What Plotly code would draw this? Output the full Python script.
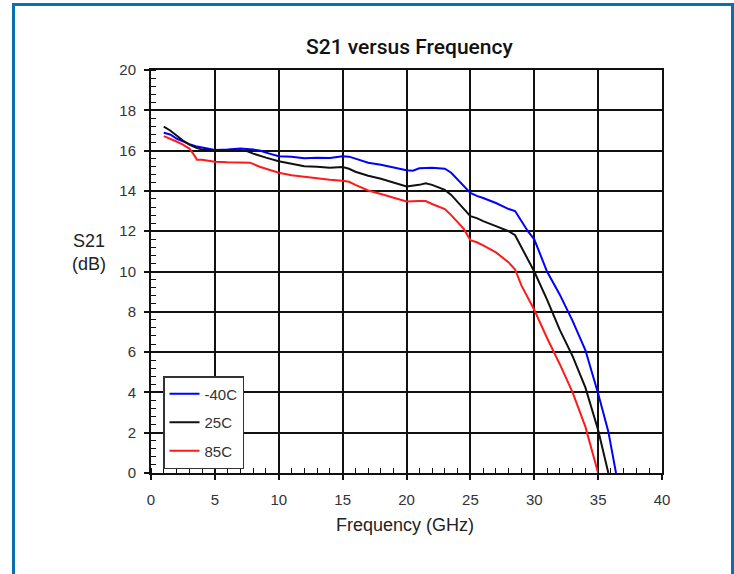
import plotly.graph_objects as go

# ---- data ----
freq_m40 = [1, 1.5, 2, 2.5, 3, 3.5, 4, 4.5, 5, 6, 7, 8, 8.5, 9, 10, 11, 12, 13, 14, 15, 15.5, 16, 17, 18, 19, 20, 20.5, 21, 22, 23, 23.5, 24, 24.5, 25, 25.5, 26, 27, 28, 28.5, 29, 29.5, 30, 31, 32, 33, 34, 35, 35.8, 36.4]
s21_m40 = [16.89, 16.8, 16.6, 16.45, 16.32, 16.22, 16.15, 16.08, 16.03, 16.05, 16.1, 16.05, 16.0, 15.9, 15.72, 15.7, 15.62, 15.65, 15.63, 15.72, 15.7, 15.6, 15.4, 15.3, 15.15, 15.02, 15.0, 15.12, 15.15, 15.1, 14.9, 14.55, 14.2, 13.9, 13.75, 13.65, 13.4, 13.1, 13.0, 12.5, 12.0, 11.6, 10.0, 8.85, 7.55, 6.1, 3.95, 2.05, 0]

freq_25 = [1, 1.5, 2, 2.5, 3, 3.5, 4, 5, 6, 7, 7.5, 8, 9, 10, 11, 12, 13, 14, 15, 15.5, 16, 17, 18, 19, 20, 21, 21.5, 22, 23, 23.5, 24, 24.5, 25, 25.5, 26, 27, 28, 28.5, 29, 30, 31, 32, 33, 34, 35, 35.8]
s21_25 = [17.19, 17.0, 16.75, 16.5, 16.3, 16.15, 16.05, 16.0, 16.0, 16.02, 15.98, 15.85, 15.65, 15.47, 15.35, 15.22, 15.2, 15.15, 15.18, 15.1, 14.95, 14.75, 14.6, 14.4, 14.22, 14.3, 14.38, 14.3, 14.05, 13.8, 13.45, 13.1, 12.75, 12.65, 12.5, 12.25, 12.0, 11.8, 11.2, 10.0, 8.6, 7.1, 5.8, 4.25, 2.13, 0]

freq_85 = [1, 1.5, 2, 2.5, 3, 3.3, 3.6, 4, 5, 6, 7, 7.75, 8.5, 9, 10, 11, 12, 13, 14, 15, 15.5, 16, 17, 18, 19, 20, 21, 21.5, 22, 23, 23.5, 24, 24.5, 25, 25.5, 26, 27, 28, 28.5, 29, 30, 31, 32, 33, 34, 35]
s21_85 = [16.72, 16.6, 16.45, 16.3, 16.1, 15.85, 15.55, 15.55, 15.45, 15.42, 15.42, 15.4, 15.2, 15.1, 14.9, 14.78, 14.7, 14.65, 14.55, 14.5, 14.45, 14.3, 14.02, 13.85, 13.65, 13.48, 13.5, 13.5, 13.35, 13.1, 12.8, 12.45, 12.1, 11.55, 11.45, 11.3, 10.95, 10.45, 10.1, 9.3, 8.1, 6.7, 5.4, 4.0, 2.3, 0]

series_names = ["-40C", "25C", "85C"]
series_colors = ["#0000ff", "#111111", "#ff1a1a"]
x_ticks = [0, 5, 10, 15, 20, 25, 30, 35, 40]
y_ticks = [0, 2, 4, 6, 8, 10, 12, 14, 16, 18, 20]

# ---- layout geometry (pixels) ----
W, H = 734, 574
L, R, T, B = 151, 72, 70, 101
pw, ph = W - L - R, H - T - B


def px(xp):
    return (xp - L) / pw


def py(yp):
    return (H - B - yp) / ph


fig = go.Figure()
for i, (fx, fy) in enumerate([(freq_m40, s21_m40), (freq_25, s21_25), (freq_85, s21_85)]):
    fig.add_trace(go.Scatter(
        x=fx, y=fy, mode="lines", name=series_names[i],
        line=dict(color=series_colors[i], width=2),
        legendgroup=series_names[i],
    ))

tick_font = dict(family="Liberation Sans, Arial, sans-serif", size=15, color="#333")
axis_common = dict(
    showline=True, linecolor="#111", linewidth=2, mirror=True,
    showgrid=True, gridcolor="#111", gridwidth=1.8,
    ticks="outside", ticklen=5, tickwidth=1.5, tickcolor="#111",
    tickfont=tick_font, zeroline=False,
)

fig.update_xaxes(range=[0, 40], tickvals=x_ticks, ticklabelstandoff=7,
                 minor=dict(dtick=1, ticks="inside", ticklen=5, tickwidth=1.2, tickcolor="#111", showgrid=False),
                 **axis_common)
fig.update_yaxes(range=[0, 20], tickvals=y_ticks, ticklabelstandoff=5,
                 minor=dict(dtick=0.4, ticks="inside", ticklen=5, tickwidth=1.2, tickcolor="#111", showgrid=False),
                 **axis_common)

title_font = dict(family="Roboto, Liberation Sans, Arial, sans-serif", size=21, color="#111", weight=500)
label_font = dict(family="Liberation Sans, Arial, sans-serif", size=18, color="#222")

fig.update_layout(
    width=W, height=H,
    margin=dict(l=L, r=R, t=T, b=B, pad=0),
    paper_bgcolor="white", plot_bgcolor="white",
    showlegend=True,
    legend=dict(
        x=px(163), y=py(376), xanchor="left", yanchor="top",
        bordercolor="#333", borderwidth=1.5, bgcolor="white",
        font=dict(family="Liberation Sans, Arial, sans-serif", size=15, color="#333"),
        tracegroupgap=6, itemwidth=30,
    ),
    annotations=[
        dict(text="S21 versus Frequency", x=px(410), y=py(47), xref="paper", yref="paper",
             showarrow=False, font=title_font, xanchor="center", yanchor="middle"),
        dict(text="S21<br>(dB)", x=px(89), y=py(253), xref="paper", yref="paper",
             showarrow=False, font=label_font,
             xanchor="center", yanchor="middle", align="center"),
        dict(text="Frequency (GHz)", x=px(405), y=py(525), xref="paper", yref="paper",
             showarrow=False, font=label_font, xanchor="center", yanchor="middle"),
    ],
    shapes=[
        dict(type="line", xref="paper", yref="paper", x0=px(13.5), x1=px(13.5), y0=py(3), y1=py(600),
             line=dict(color="#0a6fb0", width=3)),
        dict(type="line", xref="paper", yref="paper", x0=px(12), x1=px(734), y0=py(4.5), y1=py(4.5),
             line=dict(color="#0a6fb0", width=3)),
        dict(type="line", xref="paper", yref="paper", x0=px(732.5), x1=px(732.5), y0=py(3), y1=py(600),
             line=dict(color="#0a6fb0", width=3)),
    ],
)

fig.write_html("out.html", config={"displayModeBar": False},
               post_script="document.body.style.margin='0px';")
